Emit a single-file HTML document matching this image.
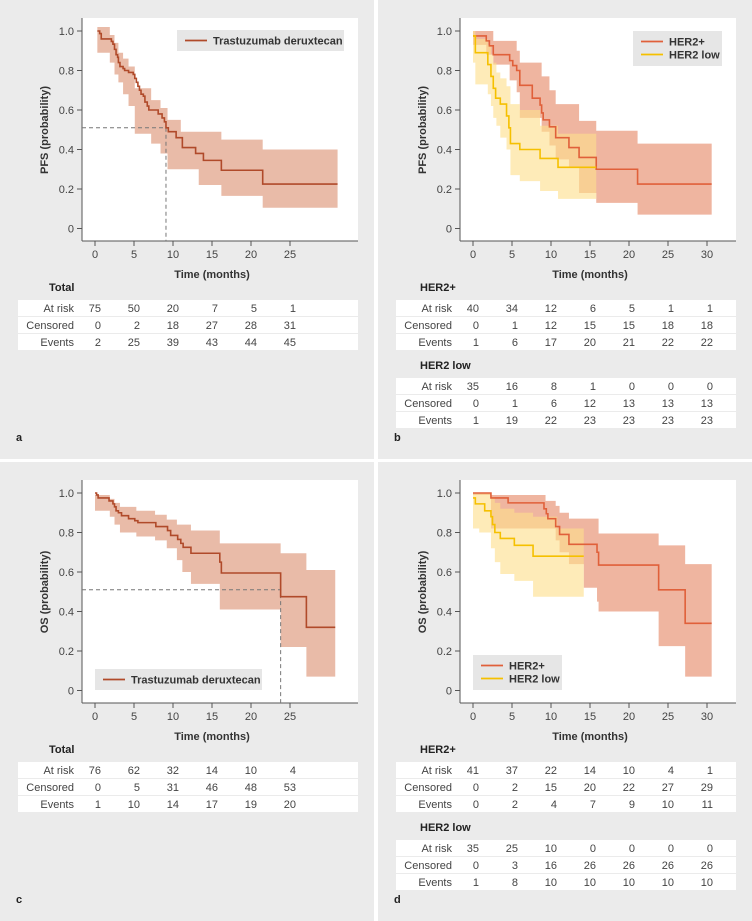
<!DOCTYPE html>
<html><head><meta charset="utf-8"><style>
html,body{margin:0;padding:0;background:#fff;}
svg{display:block;font-family:"Liberation Sans",sans-serif;}
</style></head><body>
<svg id="fig" width="752" height="921" viewBox="0 0 752 921" xmlns="http://www.w3.org/2000/svg"></svg>
<script>
// ---- Panel a: PFS overall ----
const aT = [0.3,0.6,0.8,2.1,2.3,2.5,2.7,2.9,3.0,3.2,3.6,3.8,4.3,4.9,5.1,5.3,5.5,5.7,5.9,6.2,6.4,6.7,6.9,8.1,8.6,8.9,9.1,9.4,10.4,11.2,12.9,13.9,16.2,21.5];
const aP = [1.0,0.987,0.96,0.947,0.933,0.907,0.88,0.867,0.84,0.82,0.81,0.80,0.79,0.78,0.76,0.74,0.72,0.70,0.68,0.67,0.64,0.62,0.60,0.58,0.56,0.54,0.51,0.49,0.46,0.41,0.38,0.345,0.295,0.225];
const aEnd = 31.1;
const aCiT = [0.3,1.9,2.5,3.0,3.6,4.3,5.1,7.2,8.4,9.3,11.0,13.3,16.2,21.5];
const aCiHi = [1.02,0.98,0.94,0.89,0.86,0.82,0.71,0.65,0.61,0.55,0.49,0.49,0.45,0.40];
const aCiLo = [0.89,0.84,0.78,0.74,0.68,0.62,0.48,0.43,0.38,0.30,0.30,0.22,0.165,0.105];
const aMedian = 9.1;
// ---- Panel b: PFS by HER2 ----
const bPosT = [0,1.7,2.1,2.6,4.7,5.1,5.6,6.0,7.6,8.6,8.8,9.0,9.8,10.6,12.3,13.6,15.8,21.1];
const bPosP = [0.975,0.95,0.925,0.88,0.85,0.825,0.80,0.725,0.66,0.625,0.585,0.55,0.515,0.46,0.41,0.36,0.30,0.225];
const bPosEnd = 30.6;
const bPosCiT = [0,1.7,2.6,4.7,5.6,6.0,7.6,8.8,9.8,10.6,12.3,13.6,15.8,21.1];
const bPosCiHi = [1.0,1.0,0.95,0.95,0.90,0.84,0.84,0.77,0.70,0.63,0.63,0.545,0.495,0.43];
const bPosCiLo = [0.93,0.88,0.83,0.75,0.69,0.56,0.56,0.49,0.42,0.35,0.31,0.18,0.13,0.07];
const bLowT = [0,0.3,1.9,2.3,2.6,2.9,3.5,4.3,4.6,4.8,6.0,8.6,10.9];
const bLowP = [0.975,0.89,0.83,0.77,0.71,0.66,0.63,0.57,0.51,0.43,0.40,0.355,0.31];
const bLowEnd = 15.8;
const bLowCiT = [0,0.3,1.9,2.3,2.6,3.0,3.5,4.3,4.8,6.0,8.6,10.9,13.6];
const bLowCiHi = [1.0,0.96,0.93,0.88,0.84,0.79,0.76,0.72,0.63,0.60,0.52,0.48,0.48];
const bLowCiLo = [0.84,0.73,0.68,0.62,0.56,0.52,0.46,0.40,0.27,0.24,0.19,0.15,0.15];
// ---- Panel c: OS overall ----
const cT = [0,0.2,0.4,1.8,2.3,2.5,2.7,3.0,3.4,4.3,5.1,5.5,7.8,9.3,9.7,10.6,11.0,11.3,12.3,16.0,16.2,23.8,27.1];
const cP = [1.0,0.99,0.975,0.96,0.945,0.93,0.91,0.90,0.885,0.87,0.86,0.85,0.83,0.81,0.785,0.765,0.745,0.725,0.695,0.65,0.595,0.475,0.32];
const cEnd = 30.8;
const cCiT = [0,1.9,2.5,3.2,5.3,7.7,9.2,10.5,11.2,12.3,16.0,23.8,27.1];
const cCiHi = [0.99,0.97,0.95,0.93,0.91,0.89,0.865,0.84,0.84,0.81,0.745,0.695,0.61];
const cCiLo = [0.91,0.88,0.84,0.80,0.78,0.76,0.72,0.66,0.60,0.54,0.41,0.22,0.07];
const cMedian = 23.8;
// ---- Panel d: OS by HER2 ----
const dPosT = [0,2.3,4.5,9.1,9.4,9.6,10.6,11.1,12.3,15.9,16.1,23.8,27.2];
const dPosP = [1.0,0.975,0.95,0.92,0.895,0.87,0.83,0.79,0.74,0.70,0.635,0.51,0.34];
const dPosEnd = 30.6;
const dPosCiT = [0,2.3,9.3,10.6,11.1,12.3,14.2,15.9,16.1,23.8,27.2];
const dPosCiHi = [1.0,0.99,0.96,0.935,0.90,0.87,0.87,0.87,0.795,0.735,0.64];
const dPosCiLo = [0.99,0.82,0.82,0.76,0.70,0.64,0.52,0.45,0.40,0.225,0.07];
const dLowT = [0,0.3,1.5,2.3,2.5,2.8,3.5,5.3,7.7];
const dLowP = [0.975,0.945,0.91,0.88,0.84,0.80,0.77,0.735,0.68];
const dLowEnd = 14.2;
const dLowCiT = [0,0.8,2.3,2.8,3.5,5.3,7.7,9.7,10.8,12.0];
const dLowCiHi = [1.0,1.0,0.98,0.95,0.92,0.90,0.88,0.88,0.82,0.82];
const dLowCiLo = [0.82,0.80,0.72,0.65,0.59,0.555,0.475,0.475,0.475,0.475];
// ---- tables ----
const rowLabels = ["At risk","Censored","Events"];
const aTable = [[75,50,20,7,5,1],[0,2,18,27,28,31],[2,25,39,43,44,45]];
const bPosTable = [[40,34,12,6,5,1,1],[0,1,12,15,15,18,18],[1,6,17,20,21,22,22]];
const bLowTable = [[35,16,8,1,0,0,0],[0,1,6,12,13,13,13],[1,19,22,23,23,23,23]];
const cTable = [[76,62,32,14,10,4],[0,5,31,46,48,53],[1,10,14,17,19,20]];
const dPosTable = [[41,37,22,14,10,4,1],[0,2,15,20,22,27,29],[0,2,4,7,9,10,11]];
const dLowTable = [[35,25,10,0,0,0,0],[0,3,16,26,26,26,26],[1,8,10,10,10,10,10]];
const yTicks = [0,0.2,0.4,0.6,0.8,1.0];
const yTickLabels = ["0","0.2","0.4","0.6","0.8","1.0"];
const xTicksShort = [0,5,10,15,20,25];
const xTicksLong = [0,5,10,15,20,25,30];

const NS = "http://www.w3.org/2000/svg";
const svg = document.getElementById('fig');
function mk(tag, attrs, parent){
  const e = document.createElementNS(NS, tag);
  for (const k in attrs) e.setAttribute(k, attrs[k]);
  (parent||svg).appendChild(e);
  return e;
}
const RED = "#b04a2a", RED_FILL = "#e9bba8";
const ORANGE = "#e0603a", ORANGE_FILL = "#efb5a0";
const YEL = "#f5c000", YEL_FILL = "rgba(253,222,140,0.62)";

function panel(ox, oy, letter, name, xticks, x0){
  const g = mk('g', {transform:`translate(${ox},${oy})`});
  
  
  const bg = mk('rect', {x:0,y:0,width:374,height:459,fill:'#ebebeb'}, g);
  
  
  const pa = mk('rect', {x:82,y:18,width:276,height:223,fill:'#fff'}, g);
  
  
  const X = t => x0 + 7.8*t;
  const Y = p => 228.5 - 197.5*p;
  const ya = mk('line', {x1:82,y1:18,x2:82,y2:241,stroke:'#555','stroke-width':1}, g);
  
  
  const xa = mk('line', {x1:82,y1:241,x2:358,y2:241,stroke:'#555','stroke-width':1}, g);
  
  
  yTicks.forEach((v,i)=>{
    const tk = mk('line', {x1:77,x2:82,y1:Y(v),y2:Y(v),stroke:'#555'}, g);
    
    
    const tl = mk('text', {x:74,y:Y(v)+4,'text-anchor':'end','font-size':11,fill:'#444'}, g);
    tl.textContent = yTickLabels[i];
    
    
  });
  xticks.forEach(v=>{
    const tk = mk('line', {x1:X(v),x2:X(v),y1:241,y2:246,stroke:'#555'}, g);
    
    
    const tl = mk('text', {x:X(v),y:258,'text-anchor':'middle','font-size':11,fill:'#444'}, g);
    tl.textContent = String(v);
    
    
  });
  const xt = mk('text', {x:212,y:278,'text-anchor':'middle','font-size':11,'font-weight':'bold',fill:'#333'}, g);
  xt.textContent = 'Time (months)';
  
  
  const lt = mk('text', {x:16,y:441,'font-size':11,'font-weight':'bold',fill:'#222'}, g);
  lt.textContent = letter;
  
  
  return {g, X, Y};
}
function yTitle(P, text){
  const t = mk('text', {x:0,y:0,transform:'translate(48,130) rotate(-90)','text-anchor':'middle','font-size':11,'font-weight':'bold',fill:'#333'}, P.g);
  t.textContent = text;
  
  
}
function band(P, T, hi, lo, end, fill, name){
  let d = '';
  for (let i=0;i<T.length;i++){
    const xa = P.X(T[i]), xb = P.X(i<T.length-1?T[i+1]:end);
    d += (i===0?'M':'L') + xa + ' ' + P.Y(hi[i]) + ' L' + xb + ' ' + P.Y(hi[i]) + ' ';
  }
  for (let i=T.length-1;i>=0;i--){
    const xa = P.X(T[i]), xb = P.X(i<T.length-1?T[i+1]:end);
    d += 'L' + xb + ' ' + P.Y(lo[i]) + ' L' + xa + ' ' + P.Y(lo[i]) + ' ';
  }
  const e = mk('path', {d:d+'Z', fill:fill, stroke:'none'}, P.g);
  
  
}
function curve(P, T, p, end, color, name){
  let d = 'M' + P.X(T[0]) + ' ' + P.Y(p[0]);
  for (let i=1;i<T.length;i++) d += ' H' + P.X(T[i]) + ' V' + P.Y(p[i]);
  d += ' H' + P.X(end);
  const e = mk('path', {d, fill:'none', stroke:color, 'stroke-width':1.6}, P.g);
  
  
}
function median(P, t){
  const e = mk('path', {d:`M82 ${P.Y(0.51)} H${P.X(t)} V241`, fill:'none', stroke:'#777','stroke-width':1,'stroke-dasharray':'4,3'}, P.g);
  
  
}
function legend(P, x, y, w, items){
  const h = items.length===1 ? 21 : 35;
  const bx = mk('rect', {x, y, width:w, height:h, fill:'#e6e6e6'}, P.g);
  
  
  items.forEach((it,i)=>{
    const cy = y + 10.5 + i*13;
    const ln = mk('line', {x1:x+8,x2:x+30,y1:cy,y2:cy,stroke:it[1],'stroke-width':1.8}, P.g);
    
    
    const tx = mk('text', {x:x+36,y:cy+4,'font-size':11,'font-weight':'bold',fill:'#333'}, P.g);
    tx.textContent = it[0];
    
    
  });
}
function table(P, top, title, data, cols, X){
  const tt = mk('text', {x:P.tx,y:top-4,'font-size':11,'font-weight':'bold',fill:'#222'}, P.g);
  tt.textContent = title;
  
  
  data.forEach((row,r)=>{
    const ry = top + 5 + r*17;
    const rr = mk('rect', {x:18,y:ry,width:340,height:16,fill:'#fff'}, P.g);
    
    
    const lb = mk('text', {x:P.lx,y:ry+12,'text-anchor':'end','font-size':11,fill:'#444'}, P.g);
    lb.textContent = rowLabels[r];
    
    
    row.forEach((v,c)=>{
      const t = mk('text', {x:X(cols[c])+6,y:ry+12,'text-anchor':'end','font-size':11,fill:'#444'}, P.g);
      t.textContent = String(v);
      
      
    });
  });
}

// Panel a
const A = panel(0, 0, 'a', 'panel-a-pfs-overall', xTicksShort, 95);
yTitle(A, 'PFS (probability)');
band(A, aCiT, aCiHi, aCiLo, aEnd, RED_FILL, 'confidence-band-tdxd');
median(A, aMedian);
curve(A, aT, aP, aEnd, RED, 'survival-curve-tdxd');
legend(A, 177, 30, 167, [['Trastuzumab deruxtecan', RED]]);
A.tx = 49; A.lx = 74;
table(A, 295, 'Total', aTable, xTicksShort, A.X);

// Panel b
const B = panel(378, 0, 'b', 'panel-b-pfs-her2', xTicksLong, 95);
yTitle(B, 'PFS (probability)');
band(B, bPosCiT, bPosCiHi, bPosCiLo, bPosEnd, ORANGE_FILL, 'confidence-band-her2-positive');
band(B, bLowCiT, bLowCiHi, bLowCiLo, bLowEnd, YEL_FILL, 'confidence-band-her2-low');
curve(B, bPosT, bPosP, bPosEnd, ORANGE, 'survival-curve-her2-positive');
curve(B, bLowT, bLowP, bLowEnd, YEL, 'survival-curve-her2-low');
legend(B, 255, 31, 89, [['HER2+', ORANGE], ['HER2 low', YEL]]);
B.tx = 42; B.lx = 74;
table(B, 295, 'HER2+', bPosTable, xTicksLong, B.X);
table(B, 373, 'HER2 low', bLowTable, xTicksLong, B.X);

// Panel c
const C = panel(0, 462, 'c', 'panel-c-os-overall', xTicksShort, 95);
yTitle(C, 'OS (probability)');
band(C, cCiT, cCiHi, cCiLo, cEnd, RED_FILL, 'confidence-band-tdxd');
median(C, cMedian);
curve(C, cT, cP, cEnd, RED, 'survival-curve-tdxd');
legend(C, 95, 207, 167, [['Trastuzumab deruxtecan', RED]]);
C.tx = 49; C.lx = 74;
table(C, 295, 'Total', cTable, xTicksShort, C.X);

// Panel d
const D = panel(378, 462, 'd', 'panel-d-os-her2', xTicksLong, 95);
yTitle(D, 'OS (probability)');
band(D, dPosCiT, dPosCiHi, dPosCiLo, dPosEnd, ORANGE_FILL, 'confidence-band-her2-positive');
band(D, dLowCiT, dLowCiHi, dLowCiLo, dLowEnd, YEL_FILL, 'confidence-band-her2-low');
curve(D, dPosT, dPosP, dPosEnd, ORANGE, 'survival-curve-her2-positive');
curve(D, dLowT, dLowP, dLowEnd, YEL, 'survival-curve-her2-low');
legend(D, 95, 193, 89, [['HER2+', ORANGE], ['HER2 low', YEL]]);
D.tx = 42; D.lx = 74;
table(D, 295, 'HER2+', dPosTable, xTicksLong, D.X);
table(D, 373, 'HER2 low', dLowTable, xTicksLong, D.X);
</script>
</body></html>
